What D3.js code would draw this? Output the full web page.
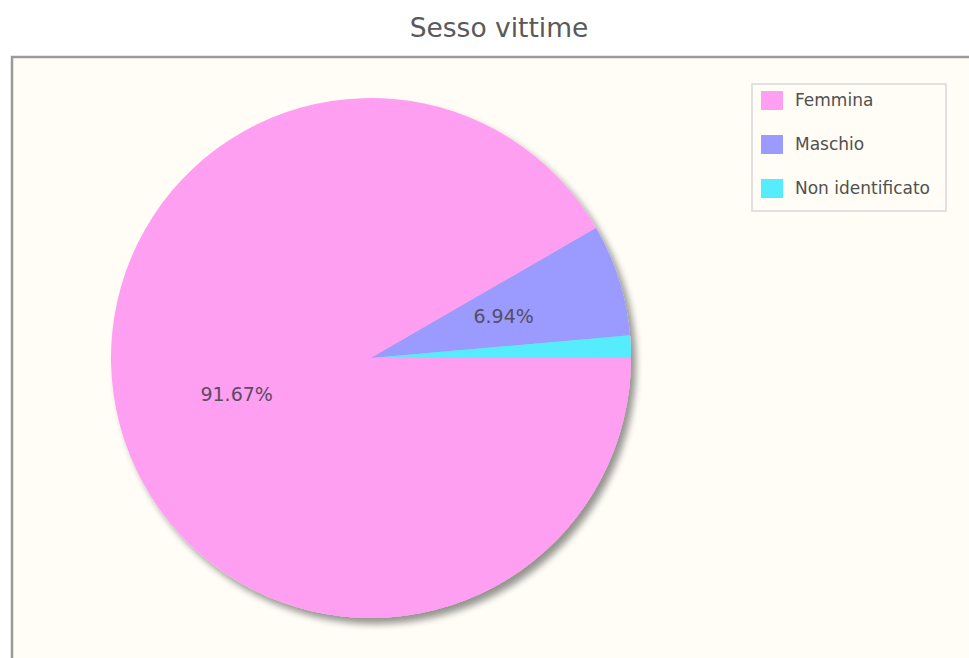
<!DOCTYPE html>
<html>
<head>
<meta charset="utf-8">
<script src="https://cdn.jsdelivr.net/npm/d3@7/dist/d3.min.js"></script>
<style>
  html, body { margin: 0; padding: 0; background: #ffffff; }
  svg { display: block; }
  text { font-family: "DejaVu Sans", Verdana, sans-serif; }
</style>
</head>
<body>
<script>
// Victim sex breakdown
const categories = ["Femmina", "Maschio", "Non identificato"];
const counts = [66, 5, 1];
const sliceColors = ["#ff9ff2", "#9a9aff", "#55edfd"];
const chartTitle = "Sesso vittime";

const W = 969, H = 658;
const svg = d3.select("body").append("svg").attr("width", W).attr("height", H);

// drop shadow for the pie
const defs = svg.append("defs");
const f = defs.append("filter").attr("id", "pieShadow")
  .attr("x", "-10%").attr("y", "-10%").attr("width", "125%").attr("height", "125%");
f.append("feGaussianBlur").attr("in", "SourceAlpha").attr("stdDeviation", 3.5).attr("result", "b");
f.append("feOffset").attr("in", "b").attr("dx", 5).attr("dy", 6).attr("result", "o");
f.append("feComponentTransfer").attr("in", "o").attr("result", "s")
  .append("feFuncA").attr("type", "linear").attr("slope", 0.42);
const m = f.append("feMerge");
m.append("feMergeNode").attr("in", "s");
m.append("feMergeNode").attr("in", "SourceGraphic");

// title
svg.append("text")
  .attr("x", 499).attr("y", 37)
  .attr("text-anchor", "middle")
  .attr("font-size", 26.5)
  .attr("fill", "#595959")
  .text(chartTitle);

// plot area
svg.append("rect")
  .attr("x", 12).attr("y", 57)
  .attr("width", W + 20).attr("height", H + 20)
  .attr("fill", "#fffdf6")
  .attr("stroke", "#9a9a9a").attr("stroke-width", 2.5);

const cx = 371, cy = 358, R = 260;
const total = d3.sum(counts);
const pie = d3.pie().sort(null).startAngle(Math.PI / 2).endAngle(Math.PI / 2 + 2 * Math.PI);
const arcs = pie(counts);
const arc = d3.arc().innerRadius(0).outerRadius(R);

const g = svg.append("g").attr("transform", `translate(${cx},${cy})`);
const slices = g.append("g").attr("filter", "url(#pieShadow)");
slices.selectAll("path").data(arcs).join("path")
  .attr("d", arc)
  .attr("fill", (d, i) => sliceColors[i]);

// percentage labels (skip tiny slices)
const labelArc = d3.arc().innerRadius(R * 0.535).outerRadius(R * 0.535);
g.selectAll("text.lbl").data(arcs.filter(d => d.value / total > 0.03)).join("text")
  .attr("class", "lbl")
  .attr("transform", d => `translate(${labelArc.centroid(d)})`)
  .attr("text-anchor", "middle")
  .attr("dy", "0.36em")
  .attr("font-size", 19)
  .attr("fill", "#574d62")
  .text(d => (d.value / total * 100).toFixed(2) + "%");

// legend
const lg = svg.append("g").attr("transform", "translate(752,84)");
lg.append("rect").attr("width", 194).attr("height", 127)
  .attr("fill", "#fffdf6").attr("stroke", "#d8d8d8").attr("stroke-width", 1.5);
const items = lg.selectAll("g.it").data(categories).join("g")
  .attr("class", "it")
  .attr("transform", (d, i) => `translate(0,${16 + i * 44})`);
items.append("rect").attr("x", 9).attr("y", -9).attr("width", 22).attr("height", 19)
  .attr("fill", (d, i) => sliceColors[i]);
items.append("text").attr("x", 43).attr("y", 0).attr("dy", "0.35em")
  .attr("font-size", 17).attr("fill", "#505050")
  .text(d => d);
</script>
</body>
</html>
